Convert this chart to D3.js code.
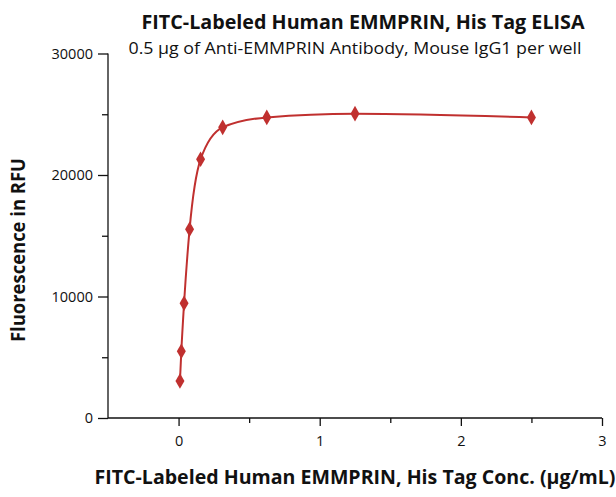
<!DOCTYPE html>
<html>
<head>
<meta charset="utf-8">
<script src="https://cdn.jsdelivr.net/npm/d3@7"></script>
<style>
  html, body { margin: 0; padding: 0; background: #fff; }
  svg { display: block; }
  text { font-family: "Open Sans", "Noto Sans", sans-serif; fill: #111; }
</style>
</head>
<body>
<svg id="chart" width="616" height="497"></svg>
<script>
const titleText = "FITC-Labeled Human EMMPRIN, His Tag ELISA";
const subtitleText = "0.5 µg of Anti-EMMPRIN Antibody, Mouse IgG1 per well";
const xLabel = "FITC-Labeled Human EMMPRIN, His Tag Conc. (µg/mL)";
const yLabel = "Fluorescence in RFU";

const concentration = [0.0098, 0.0195, 0.039, 0.078, 0.156, 0.3125, 0.625, 1.25, 2.5];
const fluorescence  = [3040, 5500, 9450, 15530, 21290, 23920, 24740, 25050, 24740];

const xTicks = [0, 1, 2, 3];
const xMinorTicks = [0.5, 1.5, 2.5];
const yTicks = [0, 10000, 20000, 30000];
const yMinorTicks = [5000, 15000, 25000];

const svg = d3.select("#chart");
const mLeft = 108, mRight = 602, mTop = 53.5, mBottom = 418;

const x = d3.scaleLinear().domain([-0.5, 3]).range([mLeft, mRight]);
const y = d3.scaleLinear().domain([0, 30000]).range([mBottom, mTop]);

// Y axis
const yAxis = svg.append("g").attr("transform", `translate(${mLeft},0)`)
  .call(d3.axisLeft(y).tickValues(yTicks).tickSize(10).tickPadding(5).tickFormat(d3.format("d")));
yAxis.select(".domain").attr("d", `M0,${mTop}V${mBottom}`);
yAxis.selectAll(".tick text").style("font-size", "14.5px").attr("fill", "#111");
yAxis.selectAll("line, path").attr("stroke", "#111").attr("stroke-width", 1.3);

const yMinor = svg.append("g").attr("transform", `translate(${mLeft},0)`)
  .call(d3.axisLeft(y).tickValues(yMinorTicks).tickSize(6).tickFormat(""));
yMinor.select(".domain").remove();
yMinor.selectAll("line").attr("stroke", "#111").attr("stroke-width", 1.3);

// X axis
const xAxis = svg.append("g").attr("transform", `translate(0,${mBottom})`)
  .call(d3.axisBottom(x).tickValues(xTicks).tickSize(8).tickPadding(10).tickFormat(d3.format("d")));
xAxis.select(".domain").attr("d", `M${mLeft},0H${mRight}`);
xAxis.selectAll(".tick text").style("font-size", "14.5px").attr("fill", "#111");
xAxis.selectAll("line, path").attr("stroke", "#111").attr("stroke-width", 1.3);

const xMinor = svg.append("g").attr("transform", `translate(0,${mBottom})`)
  .call(d3.axisBottom(x).tickValues(xMinorTicks).tickSize(5).tickFormat(""));
xMinor.select(".domain").remove();
xMinor.selectAll("line").attr("stroke", "#111").attr("stroke-width", 1.3);

// line
const data = concentration.map((c, i) => ({ c, v: fluorescence[i] }));
const red = "#c0302f";
svg.append("path")
  .datum(data)
  .attr("fill", "none")
  .attr("stroke", red)
  .attr("stroke-width", 2)
  .attr("d", d3.line().x(d => x(d.c)).y(d => y(d.v)).curve(d3.curveMonotoneX));

svg.append("g").selectAll("path")
  .data(data)
  .join("path")
  .attr("transform", d => `translate(${x(d.c)},${y(d.v)})`)
  .attr("d", d3.symbol().type(d3.symbolDiamond).size(70))
  .attr("fill", red);

// titles
svg.append("text").attr("x", 363).attr("y", 29).attr("text-anchor", "middle")
  .attr("textLength", 443).attr("lengthAdjust", "spacingAndGlyphs")
  .style("font-size", "19px").style("font-weight", "bold").text(titleText);
svg.append("text").attr("x", 355).attr("y", 54).attr("text-anchor", "middle")
  .attr("textLength", 453).attr("lengthAdjust", "spacingAndGlyphs")
  .style("font-size", "16px").text(subtitleText);
svg.append("text").attr("x", 355).attr("y", 484).attr("text-anchor", "middle")
  .attr("textLength", 521).attr("lengthAdjust", "spacingAndGlyphs")
  .style("font-size", "19.5px").style("font-weight", "bold").text(xLabel);
svg.append("text").attr("transform", "translate(25,250) rotate(-90)").attr("text-anchor", "middle")
  .attr("textLength", 184).attr("lengthAdjust", "spacingAndGlyphs")
  .style("font-size", "20px").style("font-weight", "bold").text(yLabel);
</script>
</body>
</html>
